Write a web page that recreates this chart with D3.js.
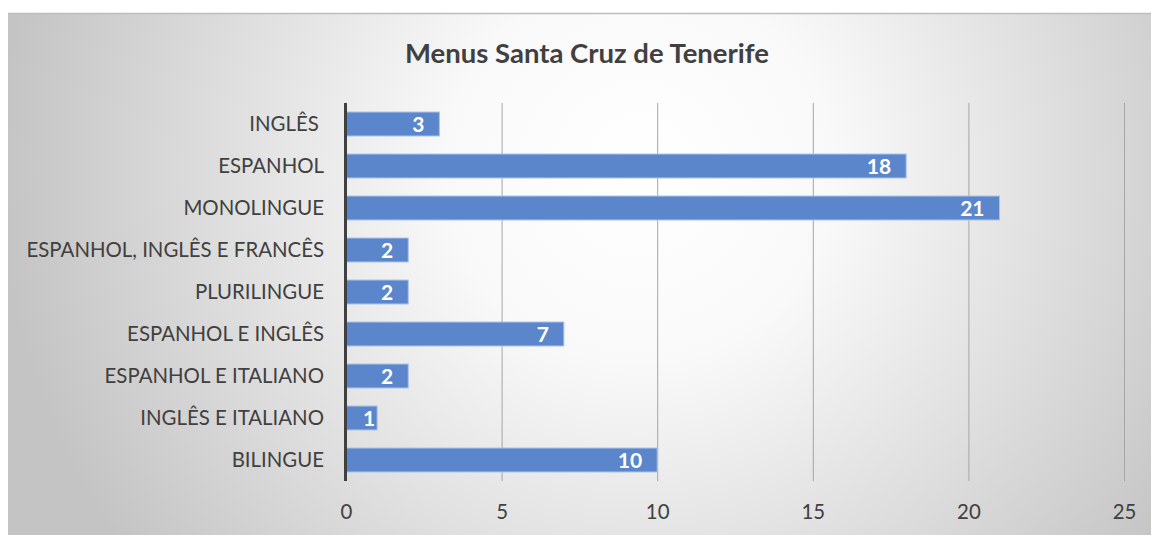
<!DOCTYPE html>
<html>
<head>
<meta charset="utf-8">
<script src="https://cdn.jsdelivr.net/npm/d3@7"></script>
<style>
  body { margin: 0; background: #fff; }
  svg { display: block; }
</style>
</head>
<body>
<div id="chart"></div>
<script>
var categories = ["INGLÊS ", "ESPANHOL", "MONOLINGUE", "ESPANHOL, INGLÊS E FRANCÊS", "PLURILINGUE",
  "ESPANHOL E INGLÊS", "ESPANHOL E ITALIANO", "INGLÊS E ITALIANO", "BILINGUE"];
var values = [3, 18, 21, 2, 2, 7, 2, 1, 10];
var xTicks = [0, 5, 10, 15, 20, 25];
var title = "Menus Santa Cruz de Tenerife";

var width = 1151, height = 535;
var font = "Lato, 'Open Sans', sans-serif";

var svg = d3.select('#chart').append('svg')
  .attr('width', width)
  .attr('height', height);

var defs = svg.append('defs');
var grad = defs.append('radialGradient')
  .attr('id', 'bg')
  .attr('gradientUnits', 'userSpaceOnUse')
  .attr('cx', 640).attr('cy', 170).attr('r', 640);
grad.append('stop').attr('offset', '0%').attr('stop-color', '#ffffff');
grad.append('stop').attr('offset', '30%').attr('stop-color', '#f9f9f9');
grad.append('stop').attr('offset', '100%').attr('stop-color', '#c4c4c4');

svg.append('rect')
  .attr('x', 8).attr('y', 13)
  .attr('width', width - 8).attr('height', height - 13)
  .attr('fill', 'url(#bg)');
svg.append('line')
  .attr('x1', 8).attr('x2', width).attr('y1', 13.5).attr('y2', 13.5)
  .attr('stroke', '#bdbdbd').attr('stroke-width', 1.5);

var x = d3.scaleLinear().domain([0, 25]).range([346, 1124]);
var y = d3.scaleBand().domain(categories).range([103, 481]).paddingInner(0.43).paddingOuter(0.215);

// grid
svg.append('g').selectAll('line')
  .data(xTicks.slice(1))
  .enter().append('line')
  .attr('x1', function(d) { return x(d) + 0.5; })
  .attr('x2', function(d) { return x(d) + 0.5; })
  .attr('y1', 103).attr('y2', 481)
  .attr('stroke', '#a6a6a6').attr('stroke-width', 1);

// bars
svg.append('g').selectAll('rect')
  .data(values)
  .enter().append('rect')
  .attr('x', x(0))
  .attr('y', function(d, i) { return y(categories[i]); })
  .attr('width', function(d) { return x(d) - x(0); })
  .attr('height', y.bandwidth())
  .attr('fill', '#5b86cb')
  .attr('stroke', '#a9c1e8')
  .attr('stroke-width', 1);

// value labels (inside end, but kept inside the bar)
svg.append('g').selectAll('text')
  .data(values)
  .enter().append('text')
  .attr('y', function(d, i) { return y(categories[i]) + y.bandwidth() / 2; })
  .attr('dy', '0.36em')
  .attr('text-anchor', 'end')
  .attr('font-family', font)
  .attr('font-weight', 'bold')
  .attr('font-size', 21)
  .attr('fill', '#ffffff')
  .text(function(d) { return d; })
  .attr('x', function(d) {
    var w = this.getComputedTextLength();
    return Math.max(x(d) - 15, x(0) + w + 17);
  });

// y axis line
svg.append('line')
  .attr('x1', 345.5).attr('x2', 345.5)
  .attr('y1', 103).attr('y2', 481)
  .attr('stroke', '#404040').attr('stroke-width', 3);

// category labels
svg.append('g').selectAll('text')
  .data(categories)
  .enter().append('text')
  .attr('x', 324)
  .attr('y', function(d) { return y(d) + y.bandwidth() / 2; })
  .attr('dy', '0.36em')
  .attr('text-anchor', 'end')
  .attr('font-family', font)
  .attr('font-size', 20.4)
  .attr('fill', '#404040')
  .attr('xml:space', 'preserve')
  .text(function(d) { return d; });

// x tick labels
var xAxis = d3.axisBottom(x).tickValues(xTicks).tickSize(0).tickPadding(0);
var gx = svg.append('g')
  .attr('transform', 'translate(0,' + 504 + ')')
  .call(xAxis);
gx.select('.domain').remove();
gx.selectAll('text')
  .attr('dy', '0.73em')
  .attr('font-family', font)
  .attr('font-size', 20.4)
  .attr('fill', '#404040');

// title
svg.append('text')
  .attr('x', 587).attr('y', 63)
  .attr('text-anchor', 'middle')
  .attr('font-family', font)
  .attr('font-weight', 'bold')
  .attr('font-size', 27.5)
  .attr('fill', '#404040')
  .text(title);
</script>
</body>
</html>
